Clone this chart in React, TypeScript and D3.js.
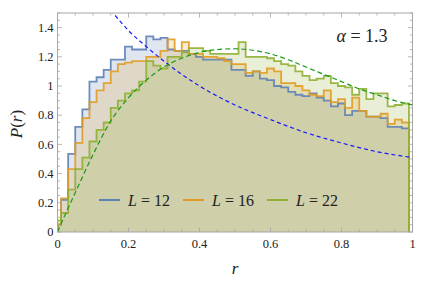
import React from "react";
import * as d3 from "d3";

const SERIES = ["L = 12", "L = 16", "L = 22"];
const COLORS = ["#5E81B5", "#E19C24", "#8FB032"];

// histogram heights, bins centred at 0, 0.02, ..., 0.98 (width 0.02)
const L12 = [0.05, 0.22, 0.535, 0.72, 0.84, 1.03, 1.06, 1.11, 1.18, 1.18,
  1.27, 1.25, 1.25, 1.34, 1.32, 1.33, 1.25, 1.24, 1.24, 1.22,
  1.2, 1.18, 1.18, 1.18, 1.18, 1.11, 1.11, 1.07, 1.1, 1.05,
  1.04, 1.0, 0.99, 0.96, 0.94, 0.93, 0.95, 0.92, 0.9, 0.86,
  0.88, 0.8, 0.83, 0.83, 0.79, 0.79, 0.78, 0.72, 0.72, 0.71];
const L16 = [0.05, 0.23, 0.43, 0.61, 0.78, 0.89, 0.97, 1.02, 1.1, 1.15,
  1.16, 1.17, 1.17, 1.2, 1.2, 1.24, 1.32, 1.24, 1.3, 1.22,
  1.22, 1.2, 1.2, 1.19, 1.17, 1.15, 1.15, 1.09, 1.1, 1.09,
  1.12, 1.1, 1.02, 1.02, 1.0, 0.97, 0.94, 0.93, 0.97, 0.89,
  0.91, 0.85, 0.92, 0.83, 0.79, 0.79, 0.81, 0.74, 0.77, 0.75];
const L22 = [0.08, 0.13, 0.29, 0.43, 0.51, 0.62, 0.7, 0.75, 0.85, 0.9,
  0.95, 0.97, 1.03, 1.17, 1.14, 1.12, 1.2, 1.2, 1.23, 1.26,
  1.26, 1.24, 1.22, 1.22, 1.22, 1.22, 1.3, 1.2, 1.2, 1.2,
  1.19, 1.17, 1.15, 1.14, 1.1, 1.07, 1.04, 1.05, 1.07, 1.02,
  1.0, 0.99, 0.94, 0.98, 0.91, 0.95, 0.95, 0.86, 0.87, 0.88];
const HISTS = [L12, L16, L22];

// dashed reference curves
const BLUE_R = [0.15, 0.2, 0.25, 0.3, 0.35, 0.4, 0.5, 0.6, 0.7, 0.8, 0.9, 1.0];
const BLUE_P = [1.52, 1.38, 1.27, 1.17, 1.08, 1.0, 0.87, 0.77, 0.68, 0.61, 0.55, 0.51];
const GREEN_R = [0, 0.02, 0.05, 0.1, 0.15, 0.2, 0.25, 0.3, 0.35, 0.4, 0.45, 0.5, 0.55, 0.6, 0.65, 0.7, 0.75, 0.8, 0.85, 0.9, 0.95, 1.0];
const GREEN_P = [0, 0.11, 0.27, 0.53, 0.76, 0.92, 1.04, 1.13, 1.19, 1.23, 1.25, 1.255, 1.245, 1.22, 1.18, 1.13, 1.08, 1.03, 0.98, 0.94, 0.9, 0.87];

const X_TICKS = [0, 0.2, 0.4, 0.6, 0.8, 1];
const X_LABELS = ["0", "0.2", "0.4", "0.6", "0.8", "1"];
const Y_TICKS = [0, 0.2, 0.4, 0.6, 0.8, 1, 1.2, 1.4];
const Y_LABELS = ["0", "0.2", "0.4", "0.6", "0.8", "1", "1.2", "1.4"];

const W = 421, H = 291;
const BIN_W = 0.02;

export default function App() {
  const x = d3.scaleLinear().domain([0, 1]).range([57.5, 412.5]);
  const y = d3.scaleLinear().domain([0, 1.5]).range([232, 13]);
  const [x0, x1] = x.range();
  const [yb, yt] = y.range();

  const stepPath = (vals: number[]) => {
    const pts: [number, number][] = [];
    vals.forEach((v, i) => {
      const a = Math.max(0, i * BIN_W - BIN_W / 2);
      const b = i * BIN_W + BIN_W / 2;
      if (i === 0) pts.push([x(a), y(0)]);
      pts.push([x(a), y(v)]);
      pts.push([x(b), y(v)]);
    });
    const last = (vals.length - 1) * BIN_W + BIN_W / 2;
    pts.push([x(last), y(0)]);
    return d3.line()(pts) as string;
  };

  const curve = (rs: number[], ps: number[]) =>
    d3.line<number>().x((_, i) => x(rs[i])).y((_, i) => y(ps[i])).curve(d3.curveMonotoneX)(rs) as string;

  const xMinor = d3.range(0, 1.0001, 0.05);
  const yMinor = d3.range(0, 1.5001, 0.05);
  const frame = "#a6a6a6";
  const serif = "Liberation Serif, Times New Roman, DejaVu Serif, serif";
  const ts = { fontFamily: serif };

  const legendX = [99, 183, 267];

  return (
    <svg width={W} height={H} style={{ position: "absolute", left: 0, top: 0, background: "#fff" }}>
      <defs>
        <clipPath id="plot">
          <rect x={x0} y={yt} width={x1 - x0} height={yb - yt} />
        </clipPath>
      </defs>
      <g clipPath="url(#plot)">
        {HISTS.map((h, i) => (
          <path key={"f" + i} d={stepPath(h)} fill={COLORS[i]} fillOpacity={0.2} stroke="none" />
        ))}
        {HISTS.map((h, i) => (
          <path key={"s" + i} d={stepPath(h)} fill="none" stroke={COLORS[i]} strokeOpacity={0.9} strokeWidth={1.8} strokeLinejoin="miter" />
        ))}
        <path d={curve(BLUE_R, BLUE_P)} fill="none" stroke="#1a1aff" strokeWidth={1.2} strokeDasharray="4,3" />
        <path d={curve(GREEN_R, GREEN_P)} fill="none" stroke="#1a9a1a" strokeWidth={1.2} strokeDasharray="5,3" />
      </g>
      <rect x={x0} y={yt} width={x1 - x0} height={yb - yt} fill="none" stroke={frame} strokeWidth={1} />
      {xMinor.map((t, i) => {
        const major = X_TICKS.some((m) => Math.abs(m - t) < 1e-6);
        const len = major ? 4.5 : 2.5;
        return (
          <g key={"xt" + i} stroke={frame} strokeWidth={0.8}>
            <line x1={x(t)} x2={x(t)} y1={yb} y2={yb - len} />
            <line x1={x(t)} x2={x(t)} y1={yt} y2={yt + len} />
          </g>
        );
      })}
      {yMinor.map((t, i) => {
        const major = Y_TICKS.some((m) => Math.abs(m - t) < 1e-6);
        const len = major ? 4.5 : 2.5;
        return (
          <g key={"yt" + i} stroke={frame} strokeWidth={0.8}>
            <line x1={x0} x2={x0 + len} y1={y(t)} y2={y(t)} />
            <line x1={x1} x2={x1 - len} y1={y(t)} y2={y(t)} />
          </g>
        );
      })}
      {X_TICKS.map((t, i) => (
        <text key={"xl" + i} x={x(t)} y={yb + 16} textAnchor="middle" style={ts} fontSize={12.5} fill="#222">
          {X_LABELS[i]}
        </text>
      ))}
      {Y_TICKS.map((t, i) => (
        <text key={"yl" + i} x={x0 - 4} y={y(t) + 4.2} textAnchor="end" style={ts} fontSize={12.5} fill="#222">
          {Y_LABELS[i]}
        </text>
      ))}
      <text x={235} y={274} textAnchor="middle" style={ts} fontStyle="italic" fontSize={17} fill="#222">r</text>
      <text transform="translate(22,124) rotate(-90)" textAnchor="middle" style={ts} fontSize={17} fill="#222">
        <tspan fontStyle="italic">P</tspan>(<tspan fontStyle="italic">r</tspan>)
      </text>
      <text x={362} y={42} textAnchor="middle" style={ts} fontSize={18} fill="#222">
        <tspan fontStyle="italic">α</tspan> = 1.3
      </text>
      {SERIES.map((s, i) => (
        <g key={"lg" + i}>
          <line x1={legendX[i]} x2={legendX[i] + 21} y1={200} y2={200} stroke={COLORS[i]} strokeWidth={2} />
          <text x={legendX[i] + 29} y={205.5} style={ts} fontSize={16} fill="#222">
            <tspan fontStyle="italic">L</tspan> = {s.slice(4)}
          </text>
        </g>
      ))}
    </svg>
  );
}
